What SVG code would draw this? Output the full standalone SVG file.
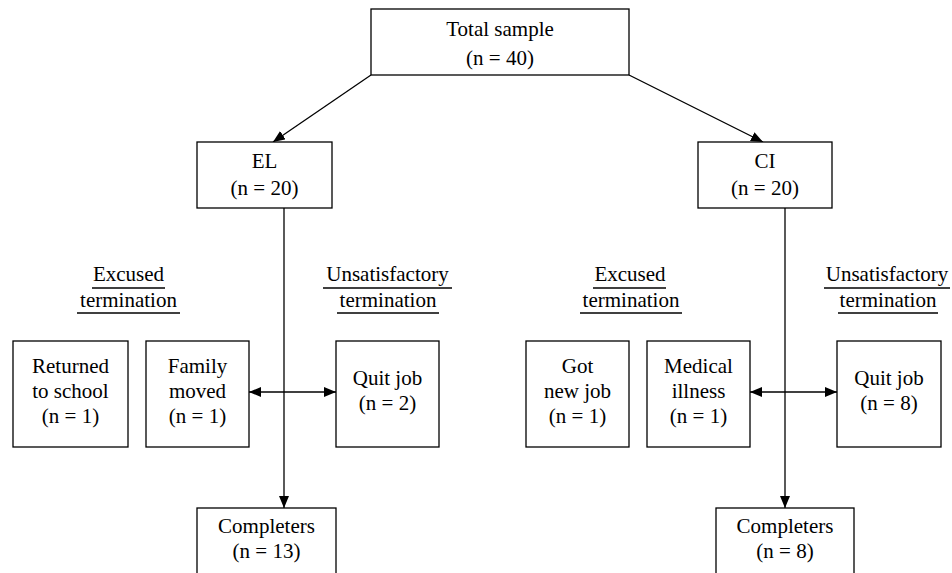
<svg xmlns="http://www.w3.org/2000/svg" width="952" height="573" viewBox="0 0 952 573">
<style>
.box{fill:#fff;stroke:#000;stroke-width:1.3}
.ln{fill:none;stroke:#000;stroke-width:1.3}
text{font-family:"Liberation Serif","Times New Roman",serif;font-size:21px;fill:#000;text-anchor:middle}
</style>
<defs>
<marker id="ah" viewBox="0 0 12 10" refX="12" refY="5" markerWidth="12" markerHeight="10" markerUnits="userSpaceOnUse" orient="auto-start-reverse">
<path d="M0,0 L12,5 L0,10 z" fill="#000"/>
</marker>
</defs>
<rect width="952" height="573" fill="#fff"/>
<g id="connectors">
<line class="ln" x1="371" y1="75" x2="273" y2="142" marker-end="url(#ah)"/>
<line class="ln" x1="629" y1="75" x2="763" y2="142" marker-end="url(#ah)"/>
<line class="ln" x1="284" y1="208" x2="284" y2="508" marker-end="url(#ah)"/>
<line class="ln" x1="785" y1="208" x2="785" y2="508" marker-end="url(#ah)"/>
<line class="ln" x1="249" y1="392" x2="336" y2="392" marker-start="url(#ah)" marker-end="url(#ah)"/>
<line class="ln" x1="750" y1="392" x2="837" y2="392" marker-start="url(#ah)" marker-end="url(#ah)"/>
</g>
<g id="total">
<rect class="box" x="371" y="9" width="258" height="66"/>
<text x="500" y="36">Total sample</text>
<text x="500" y="65">(n = 40)</text>
</g>
<g id="el">
<rect class="box" x="197" y="142" width="135" height="66"/>
<text x="264.5" y="168">EL</text>
<text x="264.5" y="195">(n = 20)</text>
</g>
<g id="ci">
<rect class="box" x="698" y="142" width="134" height="66"/>
<text x="765" y="168">CI</text>
<text x="765" y="195">(n = 20)</text>
</g>
<g id="label-excused-el">
<text x="128.5" y="281">Excused</text>
<line class="ln" x1="92" y1="288" x2="165" y2="288"/>
<text x="128.5" y="307">termination</text>
<line class="ln" x1="77" y1="313" x2="180" y2="313"/>
</g>
<g id="label-unsat-el">
<text x="387.5" y="281">Unsatisfactory</text>
<line class="ln" x1="323" y1="288" x2="452" y2="288"/>
<text x="388" y="307">termination</text>
<line class="ln" x1="337" y1="313" x2="439" y2="313"/>
</g>
<g id="label-excused-ci">
<text x="630" y="281">Excused</text>
<line class="ln" x1="593" y1="288" x2="666" y2="288"/>
<text x="631" y="307">termination</text>
<line class="ln" x1="580" y1="313" x2="682" y2="313"/>
</g>
<g id="label-unsat-ci">
<text x="887" y="281">Unsatisfactory</text>
<line class="ln" x1="824" y1="288" x2="950" y2="288"/>
<text x="888" y="307">termination</text>
<line class="ln" x1="838" y1="313" x2="938" y2="313"/>
</g>
<g id="returned">
<rect class="box" x="13" y="341" width="115" height="106"/>
<text x="70.5" y="373">Returned</text>
<text x="70.5" y="398">to school</text>
<text x="70.5" y="423">(n = 1)</text>
</g>
<g id="family">
<rect class="box" x="146" y="341" width="103" height="106"/>
<text x="197.5" y="373">Family</text>
<text x="197.5" y="398">moved</text>
<text x="197.5" y="423">(n = 1)</text>
</g>
<g id="quit-el">
<rect class="box" x="336" y="341" width="103" height="106"/>
<text x="387.5" y="385">Quit job</text>
<text x="387.5" y="410">(n = 2)</text>
</g>
<g id="gotjob">
<rect class="box" x="526" y="341" width="103" height="106"/>
<text x="577.5" y="373">Got</text>
<text x="577.5" y="398">new job</text>
<text x="577.5" y="423">(n = 1)</text>
</g>
<g id="medical">
<rect class="box" x="647" y="341" width="103" height="106"/>
<text x="698.5" y="373">Medical</text>
<text x="698.5" y="398">illness</text>
<text x="698.5" y="423">(n = 1)</text>
</g>
<g id="quit-ci">
<rect class="box" x="837" y="341" width="104" height="106"/>
<text x="889" y="385">Quit job</text>
<text x="889" y="410">(n = 8)</text>
</g>
<g id="completers-el">
<rect class="box" x="197" y="508" width="139" height="90"/>
<text x="266.5" y="533">Completers</text>
<text x="266.5" y="558">(n = 13)</text>
</g>
<g id="completers-ci">
<rect class="box" x="716" y="508" width="138" height="90"/>
<text x="785" y="533">Completers</text>
<text x="785" y="558">(n = 8)</text>
</g>
</svg>
